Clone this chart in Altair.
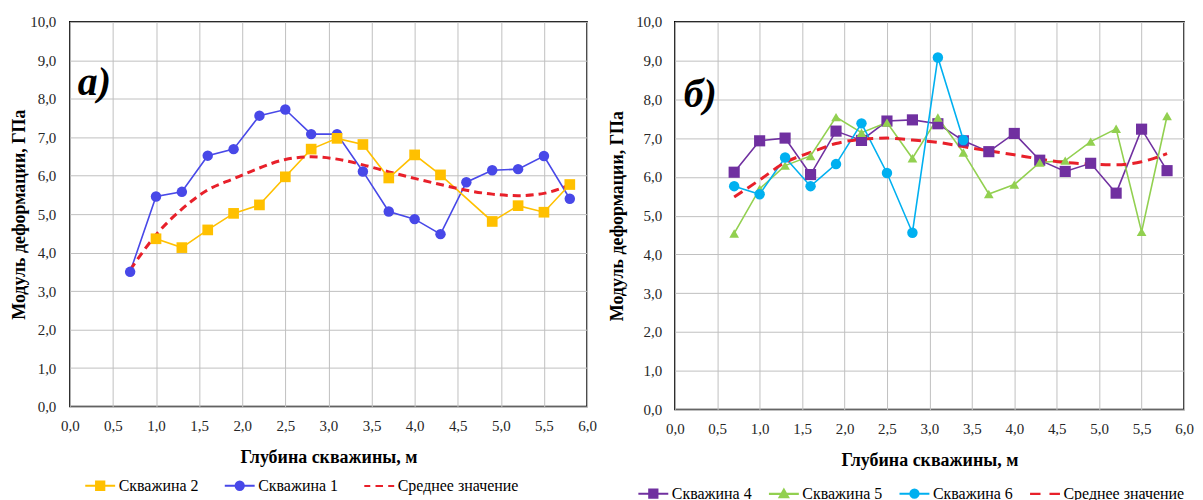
import altair as alt
import pandas as pd

FONT = "Liberation Serif"

# ---------------- data ----------------
depth = [0.7, 1.0, 1.3, 1.6, 1.9, 2.2, 2.5, 2.8, 3.1, 3.4, 3.7, 4.0, 4.3, 4.6, 4.9, 5.2, 5.5, 5.8]

# panel а)
well1 = [3.50, 5.46, 5.58, 6.52, 6.69, 7.56, 7.72, 7.08, 7.08, 6.11, 5.07, 4.87, 4.48, 5.83, 6.14, 6.17, 6.51, 5.40]
well2 = [None, 4.36, 4.13, 4.59, 5.02, 5.24, 5.97, 6.69, 6.97, 6.81, 5.94, 6.54, 6.02, None, 4.81, 5.22, 5.05, 5.77]
avg_a = [3.55, 4.46, 5.13, 5.63, 5.92, 6.20, 6.42, 6.49, 6.43, 6.28, 6.10, 5.93, 5.77, 5.62, 5.52, 5.48, 5.54, 5.76]

# panel б)
well4 = [6.12, 6.93, 7.00, 6.06, 7.18, 6.94, 7.44, 7.47, 7.37, 6.93, 6.65, 7.12, 6.43, 6.14, 6.35, 5.58, 7.23, 6.16]
well5 = [4.54, 5.69, 6.29, 6.54, 7.54, 7.14, 7.40, 6.48, 7.53, 6.63, 5.56, 5.80, 6.37, 6.42, 6.91, 7.24, 4.58, 7.57]
well6 = [5.76, 5.55, 6.50, 5.76, 6.33, 7.38, 6.10, 4.56, 9.08, 6.95, None, None, None, None, None, None, None, None]
avg_b = [5.48, 5.92, 6.37, 6.63, 6.86, 6.97, 7.00, 6.95, 6.89, 6.78, 6.67, 6.57, 6.46, 6.37, 6.33, 6.31, 6.39, 6.60]

x_ticks = [0.0, 0.5, 1.0, 1.5, 2.0, 2.5, 3.0, 3.5, 4.0, 4.5, 5.0, 5.5, 6.0]
y_ticks = [0, 1, 2, 3, 4, 5, 6, 7, 8, 9, 10]

AVG = "Среднее значение"


def long_df(series):
    rows = []
    for name, vals in series.items():
        for d, v in zip(depth, vals):
            if v is not None:
                rows.append({"depth": d, "value": v, "series": name})
    return pd.DataFrame(rows)


LABEL_EXPR = "replace(format(datum.value, '.1f'), '.', ',')"
AXIS_STYLE = dict(labelFont=FONT, labelFontSize=15, labelColor="#262626",
                  titleFont=FONT, titleFontSize=18, titleFontWeight="bold", titleColor="black",
                  gridColor="#c0c0c0", gridWidth=1, ticks=False, domain=False, labelFlush=False)


def make_panel(df, wells, legend_order, colors, shapes, sizes, legend_paths,
               letter, width, height, y_label_pad, y_title_pad,
               legend_x, legend_y, col_pad, letter_dx, letter_dy, dash):
    x = alt.X("depth:Q", scale=alt.Scale(domain=[0, 6], nice=False, zero=False),
              axis=alt.Axis(values=x_ticks, labelExpr=LABEL_EXPR, title="Глубина скважины, м",
                            labelPadding=12, titlePadding=15, **AXIS_STYLE))
    y = alt.Y("value:Q", scale=alt.Scale(domain=[0, 10], nice=False),
              axis=alt.Axis(values=y_ticks, labelExpr=LABEL_EXPR, title="Модуль деформации, ГПа",
                            labelPadding=y_label_pad, titlePadding=y_title_pad, **AXIS_STYLE))
    base = alt.Chart(df)
    layers = []
    for w in wells:
        layers.append(
            base.transform_filter(alt.datum.series == w)
            .mark_line(color=colors[w], strokeWidth=1.6)
            .encode(x=x, y=y)
        )
    layers.append(
        base.transform_filter(alt.datum.series == AVG)
        .mark_line(color="#E8202A", strokeWidth=3, strokeDash=dash, interpolate="monotone")
        .encode(x=x, y=y)
    )
    for w in wells:
        layers.append(
            base.transform_filter(alt.datum.series == w)
            .mark_point(shape=shapes[w], filled=True, opacity=1, size=sizes[w], color=colors[w])
            .encode(x=x, y=y)
        )
    all_colors = dict(colors)
    all_colors[AVG] = "#E8202A"
    leg = alt.Legend(title=None, orient="none", legendX=legend_x, legendY=legend_y,
                     direction="horizontal", symbolSize=900, symbolStrokeWidth=2.2,
                     symbolOpacity=1, labelFont=FONT, labelFontSize=16, labelColor="black",
                     columnPadding=col_pad, labelOffset=2, labelLimit=300, padding=0)
    dom = legend_order
    rng_col = [all_colors[s] for s in dom]
    rng_shape = [legend_paths[s] for s in dom]
    layers.append(
        base.mark_point(filled=True, opacity=0)
        .encode(
            x=x, y=y,
            shape=alt.Shape("series:N", scale=alt.Scale(domain=dom, range=rng_shape), legend=leg),
            fill=alt.Fill("series:N", scale=alt.Scale(domain=dom, range=rng_col), legend=leg),
            stroke=alt.Stroke("series:N", scale=alt.Scale(domain=dom, range=rng_col), legend=leg),
        )
    )
    return alt.layer(*layers).properties(
        width=width, height=height,
        title=alt.TitleParams(letter, anchor="start", orient="top", frame="group",
                              font=FONT, fontSize=40, fontStyle="italic", fontWeight="bold",
                              color="black", baseline="top", dx=letter_dx, dy=letter_dy, offset=0),
    )


df_a = long_df({"Скважина 1": well1, "Скважина 2": well2, AVG: avg_a})
df_b = long_df({"Скважина 4": well4, "Скважина 5": well5, "Скважина 6": well6, AVG: avg_b})

SQ = "M-1,0H1M-0.27,-0.27H0.27V0.27H-0.27Z"
CI = "M-1,0H1M0.27,0A0.27,0.27,0,1,1,-0.27,0A0.27,0.27,0,1,1,0.27,0Z"
TR = "M-1,0H1M0,-0.28L0.28,0.22H-0.28Z"

left = make_panel(
    df_a, ["Скважина 1", "Скважина 2"], ["Скважина 2", "Скважина 1", AVG],
    {"Скважина 1": "#4848E8", "Скважина 2": "#FFC000"},
    {"Скважина 1": "circle", "Скважина 2": "square"},
    {"Скважина 1": 110, "Скважина 2": 115},
    {"Скважина 2": SQ, "Скважина 1": CI, AVG: "M-1,0H-0.6M-0.25,0H0.25M0.6,0H1"},
    "а)", 519, 386, 14, 1, 14, 449, 21, 8, 88, [8, 5],
)
right = make_panel(
    df_b, ["Скважина 4", "Скважина 5", "Скважина 6"],
    ["Скважина 4", "Скважина 5", "Скважина 6", AVG],
    {"Скважина 4": "#7030A0", "Скважина 5": "#92D050", "Скважина 6": "#00B0F0"},
    {"Скважина 4": "square", "Скважина 5": "triangle-up", "Скважина 6": "circle"},
    {"Скважина 4": 125, "Скважина 5": 95, "Скважина 6": 110},
    {"Скважина 4": SQ, "Скважина 5": TR, "Скважина 6": CI, AVG: "M-1,0H-0.3M0.3,0H1"},
    "б)", 511, 389, 13, 9, -38, 457, 12, 9, 100, [10, 6],
)

chart = (
    alt.hconcat(left, right, spacing=10)
    .resolve_scale(shape="independent", fill="independent", stroke="independent")
    .resolve_legend(shape="independent", fill="independent", stroke="independent")
    .properties(padding={"left": 2, "top": 5, "right": 0, "bottom": 0}, background="white")
    .configure_view(stroke="black", strokeWidth=1.5)
)

chart.save("out.html", embed_options={"renderer": "svg", "actions": False})
